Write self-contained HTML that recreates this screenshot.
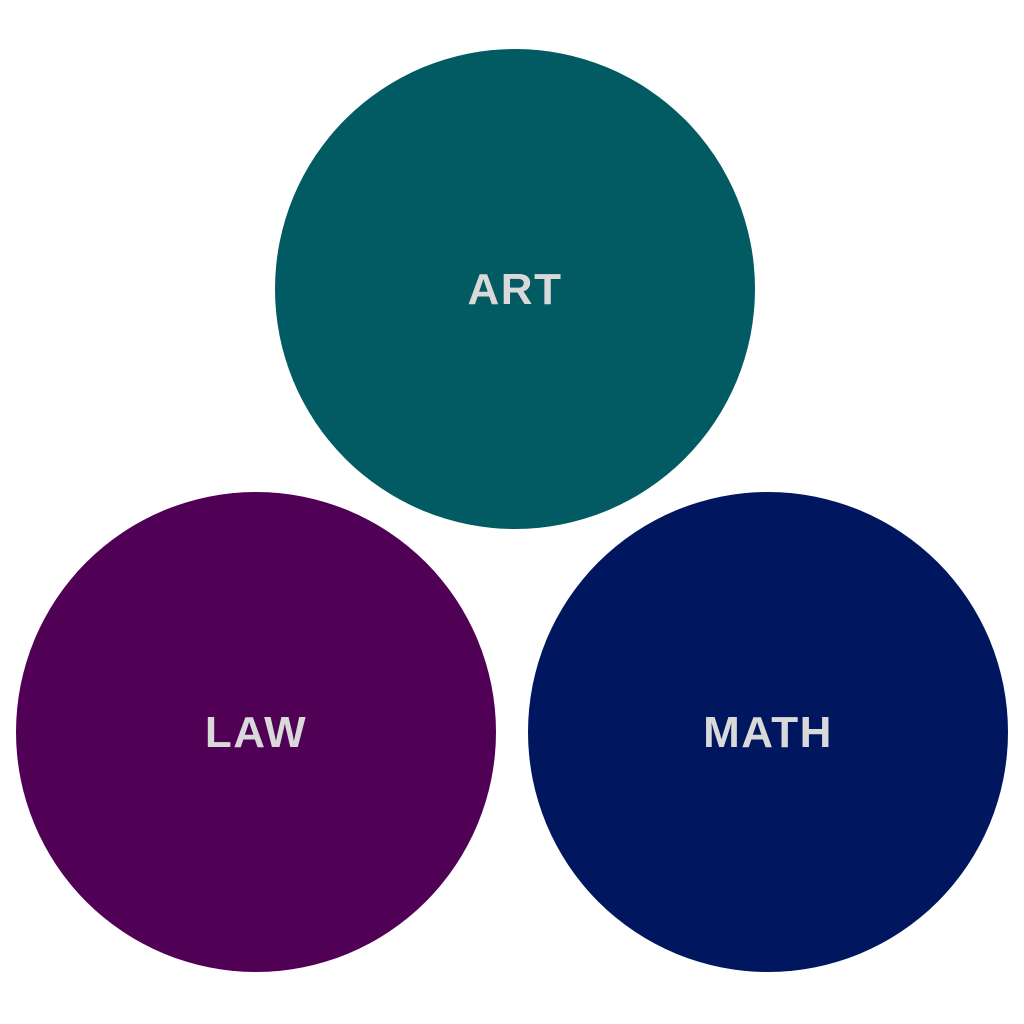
<!DOCTYPE html>
<html><head><meta charset="utf-8"><style>
html,body{margin:0;padding:0;background:#fff;width:1024px;height:1024px;overflow:hidden}
</style></head><body>
<svg width="1024" height="1024" viewBox="0 0 1024 1024" xmlns="http://www.w3.org/2000/svg">
<rect width="1024" height="1024" fill="#fff"/>
<circle cx="515" cy="289" r="240" fill="#025a63"/>
<circle cx="256" cy="732" r="240" fill="#500055"/>
<circle cx="768" cy="732" r="240" fill="#00165e"/>
<g font-family="Liberation Sans, sans-serif" font-weight="bold" font-size="44" fill="#d9d9d9" text-anchor="middle" letter-spacing="1.5">
<text x="515" y="304">ART</text>
<text x="256" y="747">LAW</text>
<text x="768" y="747">MATH</text>
</g>
</svg>
</body></html>
